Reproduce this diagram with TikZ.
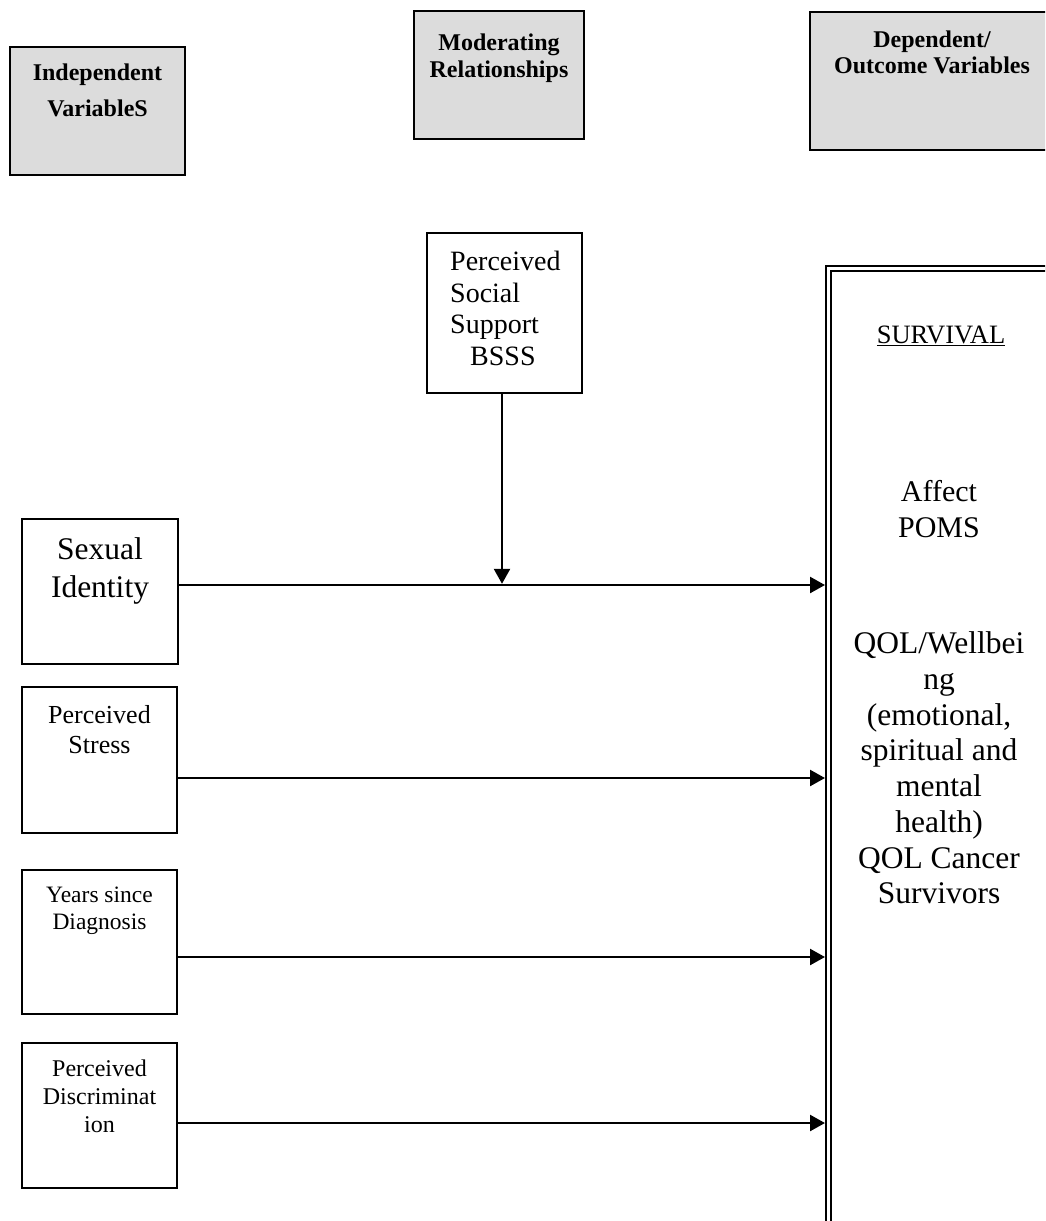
\documentclass[tikz,border=0pt]{standalone}
\usepackage{fontspec}
\setmainfont{Liberation Serif}
\usetikzlibrary{arrows.meta}
\definecolor{hdrgray}{RGB}{220,220,220}
\begin{document}
\begin{tikzpicture}[x=1pt,y=-1pt,
  hdrbox/.style={draw=black, line width=1.8pt, fill=hdrgray, inner sep=0pt, outer sep=0pt},
  varbox/.style={draw=black, line width=1.8pt, fill=white, inner sep=0pt, outer sep=0pt},
  txt/.style={inner sep=0pt, outer sep=0pt, align=center, anchor=north},
  conn/.style={line width=2.4pt, -{Triangle[length=15pt,width=16pt]}},
]
\useasboundingbox (0,0) rectangle (1045,1221);
\fill[white] (0,0) rectangle (1045,1221);
\clip (0,0) rectangle (1045,1221);

% header boxes
\node[hdrbox, minimum width=175pt, minimum height=128pt] (ind) at (97.5,111) {};
\node[hdrbox, minimum width=170pt, minimum height=128pt] (mod) at (499,75) {};
\node[hdrbox, minimum width=244pt, minimum height=138pt] (dep) at (932,81) {};
\node[txt, font=\fontsize{24}{36}\selectfont\bfseries] (indT) at (97.5,63.5) {Independent\\VariableS};
\node[txt, font=\fontsize{24}{27}\selectfont\bfseries] (modT) at (499,33.5) {Moderating\\Relationships};
\node[txt, font=\fontsize{24}{26}\selectfont\bfseries] (depT) at (932,30.5) {Dependent/\\Outcome Variables};

% moderator box
\node[varbox, minimum width=155pt, minimum height=160pt] (pss) at (504.5,313) {};
\node[inner sep=0pt, align=left, anchor=north west, font=\fontsize{28}{31.5}\selectfont] (pssT) at (450,251) {Perceived\\Social\\Support\\\hspace*{20pt}BSSS};

% independent variable boxes
\node[varbox, minimum width=156pt, minimum height=145pt] (si) at (100,591.5) {};
\node[varbox, minimum width=155pt, minimum height=146pt] (ps) at (99.5,760) {};
\node[varbox, minimum width=155pt, minimum height=144pt] (ys) at (99.5,942) {};
\node[varbox, minimum width=155pt, minimum height=145pt] (pd) at (99.5,1115.5) {};
\node[txt, font=\fontsize{31.5}{38}\selectfont] (siT) at (100,537.5) {Sexual\\Identity};
\node[txt, font=\fontsize{26}{30.5}\selectfont] (psT) at (99.5,705) {Perceived\\Stress};
\node[txt, font=\fontsize{23.5}{27}\selectfont] (ysT) at (99.5,887) {Years since\\Diagnosis};
\node[txt, font=\fontsize{24}{28}\selectfont] (pdT) at (99.5,1059.6) {Perceived\\Discriminat\\ion};

% outcome box (double border)
\node[draw=black, line width=2pt, double=white, double distance=3pt, fill=white,
      inner sep=0pt, outer sep=3.5pt, minimum width=251.5pt, minimum height=991.5pt] (out) at (954.25,764.25) {};
\node[txt, font=\fontsize{26.5}{30}\selectfont] (survT) at (941,325.5) {\underline{SURVIVAL}};
\node[txt, font=\fontsize{30}{36}\selectfont] (affT) at (939,480.5) {Affect\\POMS};
\node[txt, font=\fontsize{31.5}{35.7}\selectfont] (qolT) at (939,632) {QOL/Wellbei\\ng\\(emotional,\\spiritual and\\mental\\health)\\QOL Cancer\\Survivors};

% connectors
\coordinate (siA) at ([yshift=6.5pt]si.east);
\coordinate (psA) at ([yshift=-18pt]ps.east);
\coordinate (ysA) at ([yshift=-15pt]ys.east);
\coordinate (pdA) at ([yshift=-7.5pt]pd.east);
\coordinate (pssA) at ([xshift=-2.5pt]pss.south);
\draw[conn] (siA) -- (siA -| out.west);
\draw[conn] (psA) -- (psA -| out.west);
\draw[conn] (ysA) -- (ysA -| out.west);
\draw[conn] (pdA) -- (pdA -| out.west);
\draw[conn, shorten >=1.2pt] (pssA) -- (pssA |- siA);
\end{tikzpicture}
\end{document}
